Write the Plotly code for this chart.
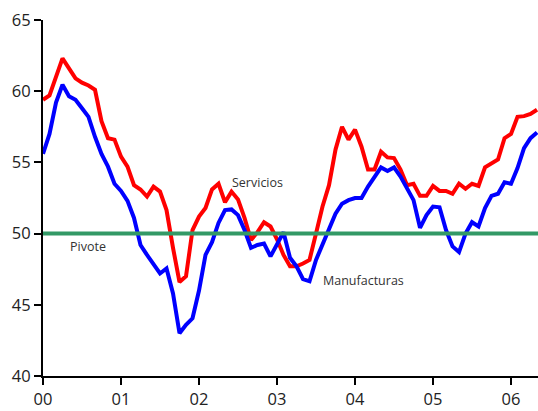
import plotly.graph_objects as go

# Monthly index: 0 = Jan 2000 ... 76 = May 2006
months = list(range(77))

servicios = [
    59.4, 59.7, 61.0, 62.3, 61.6, 60.9, 60.6, 60.4, 60.1, 57.9, 56.7, 56.6,
    55.4, 54.7, 53.4, 53.1, 52.6, 53.3, 52.95, 51.65, 49.0, 46.6, 47.0, 50.25,
    51.2, 51.8, 53.1, 53.5, 52.2, 52.95, 52.4, 51.1, 49.55, 50.1, 50.8, 50.5,
    49.6, 48.5, 47.7, 47.7, 47.9, 48.15, 50.0, 51.9, 53.4, 55.9, 57.5, 56.6,
    57.3, 56.1, 54.5, 54.5, 55.75, 55.35, 55.3, 54.5, 53.4, 53.5, 52.65, 52.65,
    53.35, 53.0, 53.0, 52.8, 53.5, 53.15, 53.5, 53.35, 54.65, 54.9, 55.2, 56.7,
    57.0, 58.2, 58.25, 58.4, 58.7,
]

manufacturas = [
    55.6, 57.0, 59.2, 60.45, 59.65, 59.4, 58.8, 58.2, 56.8, 55.6, 54.7, 53.5,
    53.0, 52.3, 51.1, 49.2, 48.5, 47.8, 47.2, 47.55, 45.8, 43.0, 43.6, 44.05,
    46.0, 48.5, 49.4, 50.75, 51.65, 51.7, 51.3, 50.25, 49.0, 49.2, 49.3, 48.4,
    49.25, 50.1, 48.3, 47.7, 46.8, 46.65, 48.15, 49.2, 50.25, 51.4, 52.1, 52.35,
    52.5, 52.5, 53.3, 54.0, 54.65, 54.4, 54.65, 54.0, 53.2, 52.35, 50.4, 51.3,
    51.9, 51.85, 50.25, 49.1, 48.7, 50.0, 50.8, 50.5, 51.8, 52.65, 52.8, 53.6,
    53.5, 54.6, 56.0, 56.7, 57.1,
]

pivote = 50
tick_months = [0, 12, 24, 36, 48, 60, 72]
tick_labels = ["00", "01", "02", "03", "04", "05", "06"]
y_ticks = [40, 45, 50, 55, 60, 65]

FONT = "Open Sans"
fig = go.Figure()
fig.add_trace(go.Scatter(x=months, y=servicios, mode="lines", name="Servicios",
                         line=dict(color="#ff0000", width=4), cliponaxis=False))
fig.add_trace(go.Scatter(x=months, y=manufacturas, mode="lines", name="Manufacturas",
                         line=dict(color="#0000ff", width=4), cliponaxis=False))
fig.add_shape(type="line", xref="paper", yref="y", x0=0, x1=1, y0=pivote, y1=pivote,
              line=dict(color="#339966", width=4), layer="above")

ann_font = dict(family=FONT, size=12.5, color="#333333")
fig.add_annotation(x=28.8, y=53.6, text="Servicios", showarrow=False,
                   xanchor="left", yanchor="middle", font=ann_font)
fig.add_annotation(x=3.9, y=49.1, text="Pivote", showarrow=False,
                   xanchor="left", yanchor="middle", font=ann_font)
fig.add_annotation(x=42.8, y=46.7, text="Manufacturas", showarrow=False,
                   xanchor="left", yanchor="middle", font=ann_font)

fig.update_layout(
    width=538, height=411, autosize=False,
    margin=dict(l=43, r=0, t=20, b=35),
    plot_bgcolor="white", paper_bgcolor="white",
    showlegend=False,
    font=dict(family=FONT, size=16.5, color="#222222"),
)
fig.update_xaxes(range=[0, 76.15], tickmode="array", tickvals=tick_months,
                 ticktext=tick_labels, showgrid=False, zeroline=False,
                 showline=True, linecolor="black", linewidth=2,
                 ticks="outside", ticklen=7, tickwidth=2, tickcolor="black")
fig.update_yaxes(range=[40, 65], tickmode="array", tickvals=y_ticks,
                 showgrid=False, zeroline=False,
                 showline=True, linecolor="black", linewidth=2,
                 ticks="outside", ticklen=7, tickwidth=2, tickcolor="black")

fig.write_html("out.html", config={"displayModeBar": False},
               post_script="document.body.style.margin='0px';document.body.style.overflow='hidden';")
